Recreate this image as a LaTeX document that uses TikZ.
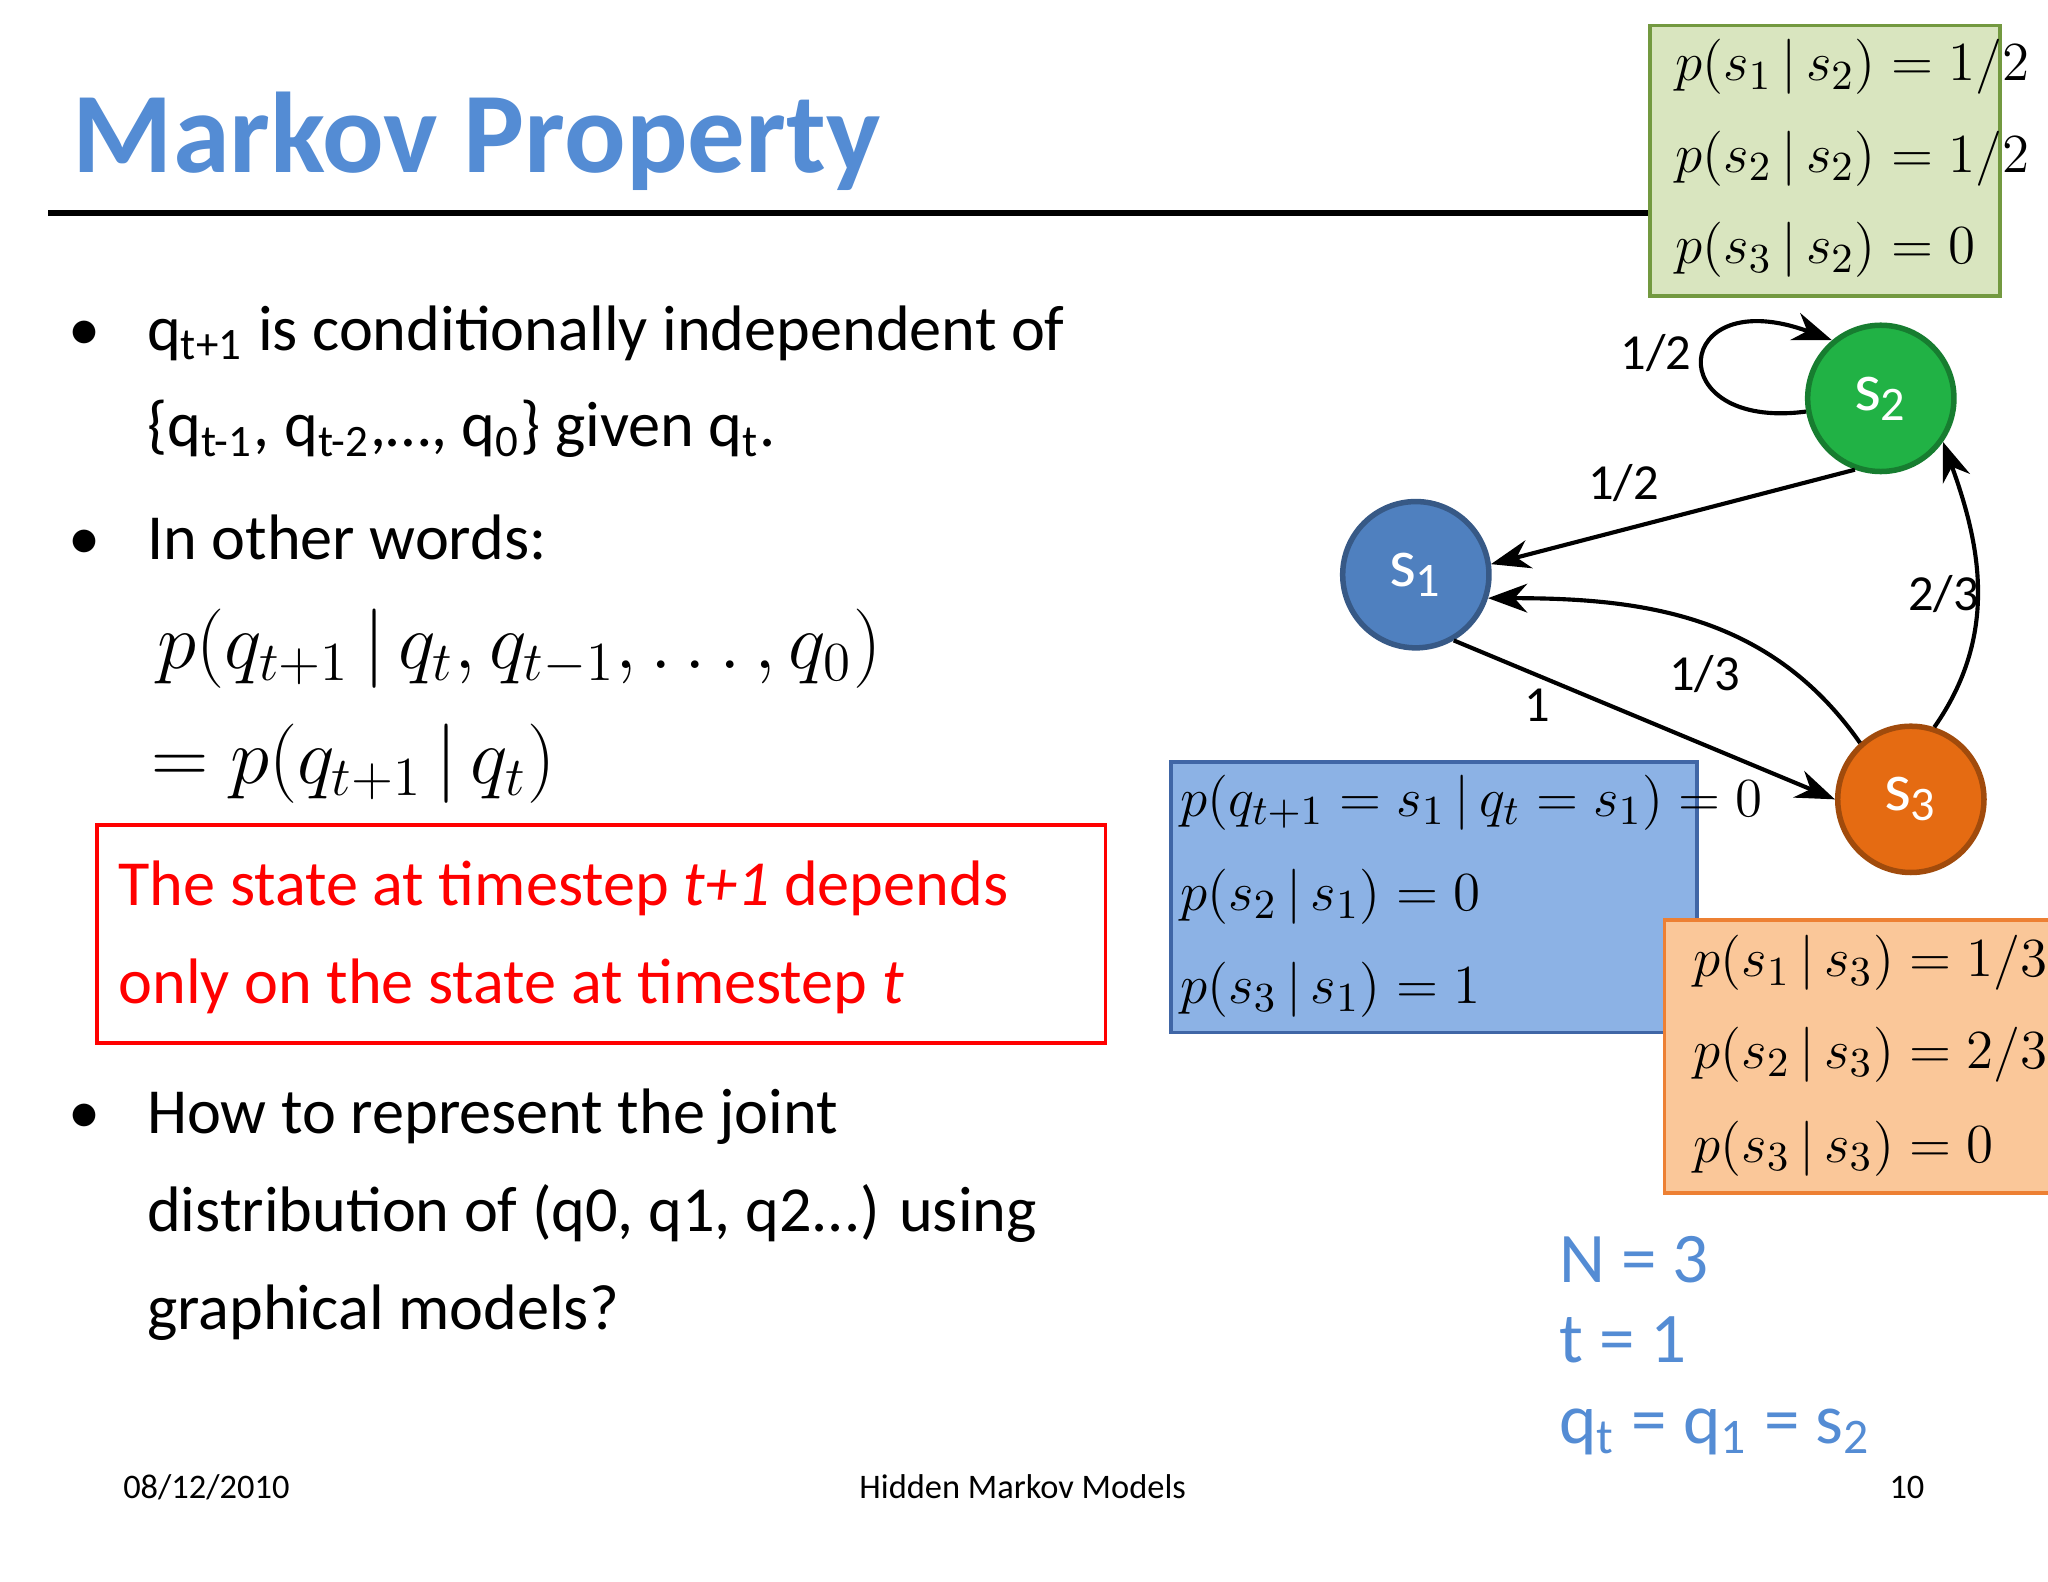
\documentclass[tikz,border=0pt]{standalone}
\usepackage{fontspec}
\setmainfont{Carlito}
\usetikzlibrary{arrows.meta}
\definecolor{tblue}{rgb}{0.33,0.55,0.83}
\definecolor{gfill}{rgb}{0.85,0.90,0.75}
\definecolor{gdraw}{rgb}{0.45,0.6,0.25}
\definecolor{bfill}{rgb}{0.55,0.70,0.90}
\definecolor{bdraw}{rgb}{0.25,0.40,0.65}
\definecolor{ofill}{rgb}{0.98,0.78,0.60}
\definecolor{odraw}{rgb}{0.93,0.50,0.20}
\definecolor{n1}{rgb}{0.31,0.50,0.75}
\definecolor{n2}{rgb}{0.13,0.70,0.27}
\definecolor{n3}{rgb}{0.90,0.42,0.07}
\tikzset{
 txt/.style={anchor=base west,inner sep=0pt,font=\fontsize{14}{16}\selectfont},
 mth/.style={anchor=base west,inner sep=0pt,font=\fontsize{13}{15}\selectfont},
 lab/.style={inner sep=0pt,font=\fontsize{11}{13}\selectfont},
 foot/.style={anchor=base,inner sep=0pt,font=\fontsize{7.5}{9}\selectfont},
 st/.style={circle,minimum size=11.2mm,inner sep=0pt,line width=1.2pt,text=white,font=\fontsize{15}{17}\selectfont},
 arr/.style={-{Stealth[length=3mm,width=2.2mm]},line width=0.9pt},
}
\begin{document}
\begin{tikzpicture}[x=0.1mm,y=-0.1mm]
\useasboundingbox[fill=white] (0,0) rectangle (1568,1211);
\node[anchor=base west,inner sep=0pt,text=tblue,font=\fontsize{25}{28}\selectfont\bfseries] (title) at (55,132) {Markov Property};
\draw[line width=1.2pt] (37,163) coordinate (l1) -- (1262,163) coordinate (l2);
\node[draw=gdraw,fill=gfill,line width=0.8pt,minimum width=26.8mm,minimum height=20.7mm,anchor=north west] (gbox) at (1262,18) {};
\node[mth] (g1) at (1282,62) {$p\bigl(s_1\,|\,s_2\bigr)=1/2$};
\node[mth] (g2) at (1282,132) {$p\bigl(s_2\,|\,s_2\bigr)=1/2$};
\node[mth] (g3) at (1282,202) {$p\bigl(s_3\,|\,s_2\bigr)=0$};
% bullets
\node[txt] (b1) at (52,268) {•};
\node[txt] (t1) at (112,268) {q\textsubscript{t+1} is conditionally independent of};
\node[txt] (t2) at (112,342) {\{q\textsubscript{t-1}, q\textsubscript{t-2},…, q\textsubscript{0}\} given q\textsubscript{t}.};
\node[txt] (b2) at (52,428) {•};
\node[txt] (t3) at (112,428) {In other words:};
\node[anchor=base west,inner sep=0pt,font=\fontsize{17}{20}\selectfont] (e1) at (120,512) {$p\bigl(q_{t+1}\,|\,q_t,q_{t-1},\ldots,q_0\bigr)$};
\node[anchor=base west,inner sep=0pt,font=\fontsize{17}{20}\selectfont] (e2) at (115,600) {$=p\bigl(q_{t+1}\,|\,q_t\bigr)$};
\node[draw=red,line width=0.8pt,minimum width=77.2mm,minimum height=16.7mm,anchor=north west] (rbox) at (73,630) {};
\node[txt,text=red] (r1) at (90,693) {The state at timestep \textit{t+1} depends};
\node[txt,text=red] (r2) at (90,768) {only on the state at timestep \textit{t}};
\node[txt] (b3) at (52,868) {•};
\node[txt] (t4) at (112,868) {How to represent the joint};
\node[txt] (t5) at (112,943) {distribution of (q0, q1, q2...) using};
\node[txt] (t6) at (112,1018) {graphical models?};
% footer
\node[foot] (f1) at (158,1147) {08/12/2010};
\node[foot] (f2) at (783,1147) {Hidden Markov Models};
\node[foot] (f3) at (1460,1147) {10};
% states
\node[st,fill=n1,draw=n1!70!black] (s1) at (1084,440) {s\textsubscript{1}};
\node[st,fill=n2,draw=n2!70!black] (s2) at (1440,305) {s\textsubscript{2}};
\node[st,fill=n3,draw=n3!70!black] (s3) at (1463,612) {s\textsubscript{3}};
\draw[arr] (s2.250) -- (s1.8);
\draw[arr] (s1.300) -- (s3.180);
\draw[arr] (s3.132) to[out=125,in=0] (s1.342);
\draw[arr] (s3.72) to[out=55,in=-70] (s2.325);
\draw[arr] (s2.190) .. controls (1270,330) and (1280,215) .. (s2.130);
\node[lab] (L1) at (1268,270) {1/2};
\node[lab] (L2) at (1243,370) {1/2};
\node[lab] (L3) at (1177,540) {1};
\node[lab] (L4) at (1305,516) {1/3};
\node[lab] (L5) at (1488,455) {2/3};
% blue box
\node[draw=bdraw,fill=bfill,line width=0.8pt,minimum width=40.3mm,minimum height=20.7mm,anchor=north west] (bbox) at (895,582) {};
\node[mth] (bb1) at (903,625) {$p\bigl(q_{t+1}=s_1\,|\,q_t=s_1\bigr)=0$};
\node[mth] (bb2) at (903,697) {$p\bigl(s_2\,|\,s_1\bigr)=0$};
\node[mth] (bb3) at (903,768) {$p\bigl(s_3\,|\,s_1\bigr)=1$};
% orange box
\node[draw=odraw,fill=ofill,line width=0.8pt,minimum width=29.5mm,minimum height=20.9mm,anchor=north west] (obox) at (1273,703) {};
\node[mth] (o1) at (1296,748) {$p\bigl(s_1\,|\,s_3\bigr)=1/3$};
\node[mth] (o2) at (1296,818) {$p\bigl(s_2\,|\,s_3\bigr)=2/3$};
\node[mth] (o3) at (1296,890) {$p\bigl(s_3\,|\,s_3\bigr)=0$};
% N, t
\node[txt,text=tblue,font=\fontsize{15.5}{18}\selectfont] (n) at (1193,982) {N = 3};
\node[txt,text=tblue,font=\fontsize{15.5}{18}\selectfont] (tt) at (1193,1043) {t = 1};
\node[txt,text=tblue,font=\fontsize{15.5}{18}\selectfont] (q) at (1193,1105) {q\textsubscript{t} = q\textsubscript{1} = s\textsubscript{2}};
\end{tikzpicture}
\end{document}
